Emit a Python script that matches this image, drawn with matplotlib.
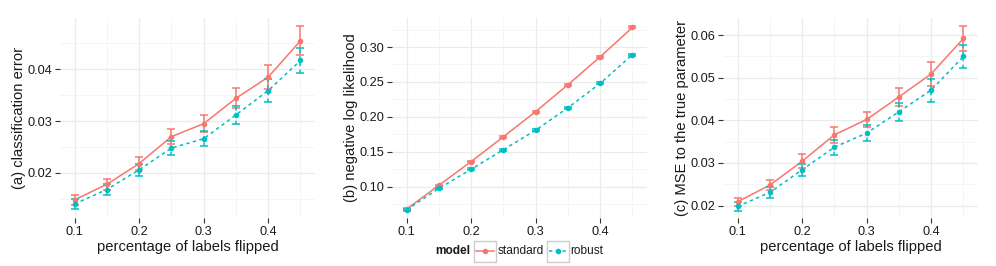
import matplotlib

matplotlib.use("Agg")
import matplotlib.pyplot as plt
from matplotlib.lines import Line2D
from matplotlib.patches import Rectangle
from matplotlib.ticker import MultipleLocator

plt.rcParams["font.family"] = ["Liberation Sans", "DejaVu Sans"]

# fraction of labels flipped
flip = [0.10, 0.15, 0.20, 0.25, 0.30, 0.35, 0.40, 0.45]

# (a) classification error
err_std = [0.0148, 0.0178, 0.0218, 0.0270, 0.0295, 0.0344, 0.0385, 0.0455]
err_std_se = [0.0010, 0.0010, 0.0012, 0.0015, 0.0016, 0.0019, 0.0023, 0.0028]
err_rob = [0.0140, 0.0168, 0.0206, 0.0248, 0.0266, 0.0312, 0.0359, 0.0417]
err_rob_se = [0.0010, 0.0011, 0.0012, 0.0014, 0.0015, 0.0017, 0.0022, 0.0025]

# (b) negative log likelihood
nll_std = [0.068, 0.102, 0.136, 0.1715, 0.2075, 0.246, 0.286, 0.328]
nll_std_se = [0.0010, 0.0012, 0.0012, 0.0013, 0.0013, 0.0014, 0.0014, 0.0015]
nll_rob = [0.067, 0.0976, 0.125, 0.153, 0.181, 0.213, 0.248, 0.289]
nll_rob_se = [0.0010, 0.0011, 0.0012, 0.0012, 0.0013, 0.0013, 0.0014, 0.0015]

# (c) MSE to the true parameter
mse_std = [0.0209, 0.0248, 0.0304, 0.0366, 0.0402, 0.0455, 0.0509, 0.0592]
mse_std_se = [0.0009, 0.0012, 0.0016, 0.0018, 0.0018, 0.0022, 0.0028, 0.0029]
mse_rob = [0.0198, 0.0231, 0.0284, 0.0337, 0.0370, 0.0420, 0.0471, 0.0550]
mse_rob_se = [0.0010, 0.0012, 0.0014, 0.0018, 0.0019, 0.0021, 0.0027, 0.0027]

STD_COLOR = "#F8766D"
ROB_COLOR = "#00BFC4"
TEXT_COLOR = "#1a1a1a"
DASH = (0, (2.2, 2.2))

W, H = 996, 266
fig = plt.figure(figsize=(W / 100, H / 100), dpi=100)


def add_panel(left, ylabel, std, std_se, rob, rob_se, ylim, ymajor, xlabel=True):
    ax = fig.add_axes([left / W, 48 / H, 255 / W, 200 / H])
    for vals, se, color, ls in (
        (std, std_se, STD_COLOR, "-"),
        (rob, rob_se, ROB_COLOR, DASH),
    ):
        ax.plot(flip, vals, color=color, lw=1.1, ls=ls, zorder=3)
        _, caps, bars = ax.errorbar(
            flip, vals, yerr=se, fmt="o", color=color, ms=3.0,
            elinewidth=1.1, capsize=2.6, capthick=1.1, zorder=4,
        )
        for b in bars:
            b.set_linestyle(ls)

    ax.set_xlim(0.0775, 0.4725)
    ax.set_ylim(*ylim)
    ax.xaxis.set_major_locator(MultipleLocator(0.1))
    ax.xaxis.set_minor_locator(MultipleLocator(0.05))
    ax.yaxis.set_major_locator(MultipleLocator(ymajor))
    ax.yaxis.set_minor_locator(MultipleLocator(ymajor / 2))
    ax.xaxis.set_major_formatter(lambda v, p: f"{v:.1f}")
    ax.yaxis.set_major_formatter(lambda v, p: f"{v:.2f}")
    ax.grid(True, which="major", color="#EBEBEB", lw=0.9)
    ax.grid(True, which="minor", color="#F4F4F4", lw=0.6)
    ax.set_axisbelow(True)
    for s in ax.spines.values():
        s.set_visible(False)
    ax.tick_params(which="major", length=3.5, width=0.8, color="#333333",
                   labelsize=9.2, labelcolor=TEXT_COLOR, pad=2)
    ax.tick_params(which="minor", length=0)
    ax.set_ylabel(ylabel, fontsize=10.6, color=TEXT_COLOR, labelpad=1)
    if xlabel:
        ax.set_xlabel("percentage of labels flipped", fontsize=10.6,
                      color=TEXT_COLOR, labelpad=2)
    return ax


add_panel(60, "(a) classification error", err_std, err_std_se, err_rob, err_rob_se,
          (0.0113, 0.0499), 0.01)
add_panel(392, "(b) negative log likelihood", nll_std, nll_std_se, nll_rob, nll_rob_se,
          (0.0553, 0.3415), 0.05, xlabel=False)
add_panel(723, "(c) MSE to the true parameter", mse_std, mse_std_se, mse_rob, mse_rob_se,
          (0.0171, 0.0640), 0.01)

# legend below the middle panel
yc = 1 - 251 / H
fig.text(435 / W, yc, "model", fontsize=8.6, fontweight="bold",
         color=TEXT_COLOR, va="center", ha="left")
for x0, label, color, ls in (
    (474, "standard", STD_COLOR, "-"),
    (547, "robust", ROB_COLOR, DASH),
):
    fig.add_artist(Rectangle((x0 / W, 1 - 262 / H), 21.5 / W, 21.5 / H,
                             transform=fig.transFigure, fill=False,
                             ec="#CCCCCC", lw=1.0))
    fig.add_artist(Line2D([(x0 + 2) / W, (x0 + 19.5) / W], [yc, yc],
                          transform=fig.transFigure, color=color, lw=1.1, ls=ls))
    fig.add_artist(Line2D([(x0 + 10.75) / W], [yc], transform=fig.transFigure,
                          color=color, marker="o", ms=3.0, lw=0))
    fig.text((x0 + 23.5) / W, yc, label, fontsize=8.6, color=TEXT_COLOR,
             va="center", ha="left")

fig.savefig("out.png", dpi=100)
